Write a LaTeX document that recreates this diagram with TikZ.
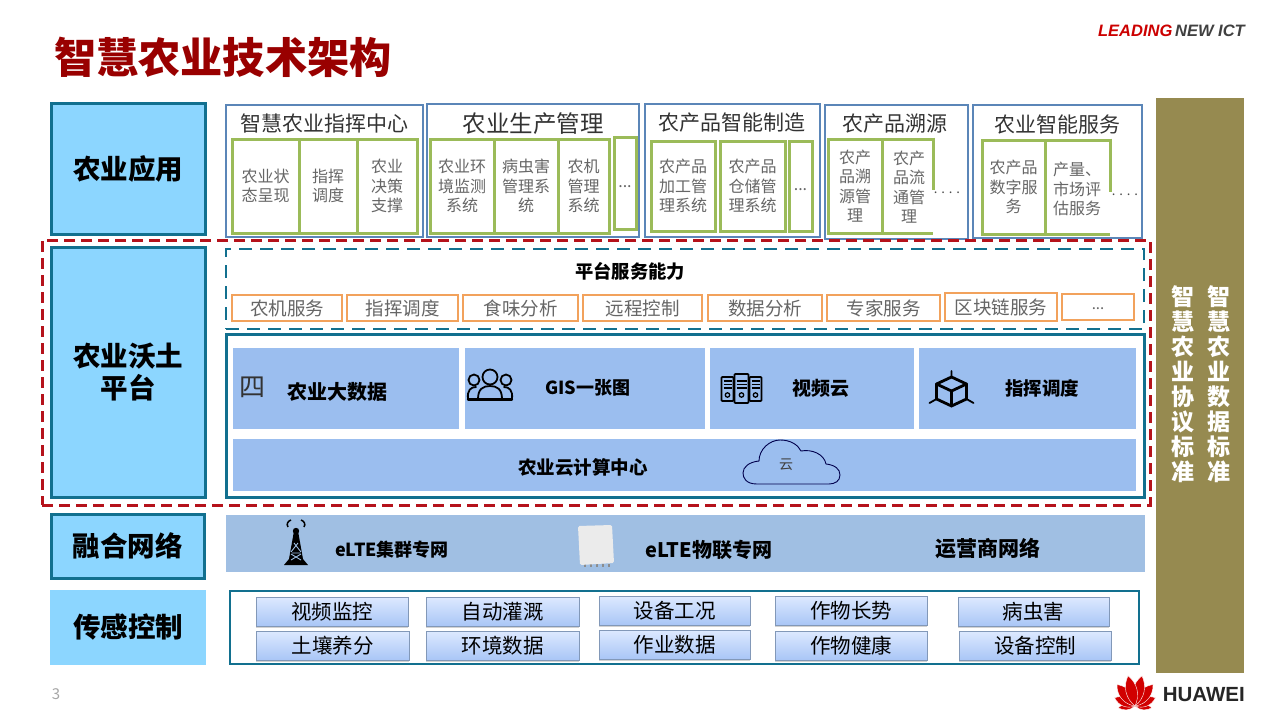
\documentclass[tikz,border=0pt]{standalone}
\usepackage{fontspec}
\setmainfont{Noto Sans CJK SC}
\newfontfamily\logofont{Liberation Sans}
\usetikzlibrary{shadows}
\definecolor{teal1}{HTML}{12708F}
\definecolor{sky1}{HTML}{8CD6FF}
\definecolor{blue1}{HTML}{5B86B8}
\definecolor{green1}{HTML}{9BBB59}
\definecolor{grey1}{HTML}{666666}
\definecolor{red1}{HTML}{B5121B}
\definecolor{orange1}{HTML}{F2A25C}
\definecolor{cell1}{HTML}{9BBEEF}
\definecolor{band1}{HTML}{A0BFE3}
\definecolor{olive1}{HTML}{968A50}
\definecolor{btnTop}{HTML}{DDE9FF}
\definecolor{btnBot}{HTML}{A9C6F6}
\definecolor{btnEdge}{HTML}{8298B8}
\newcommand{\fs}[2]{\fontsize{#1}{#2}\selectfont}
\newcommand{\rbox}[7]{%
  \pgfmathsetmacro{\rcx}{(#3+#5)/2}\pgfmathsetmacro{\rcy}{(#4+#6)/2}%
  \pgfmathsetmacro{\rw}{#5-#3}\pgfmathsetmacro{\rh}{#6-#4}%
  \node[#2,minimum width=\rw pt,minimum height=\rh pt,inner sep=0pt,outer sep=0pt] (#1) at (\rcx,\rcy) {#7};}
\tikzset{
  layerbox/.style={draw=teal1,line width=3pt,fill=sky1,align=center,font=\fs{27.5}{32}\bfseries,text=black},
  layerflat/.style={fill=sky1,align=center,font=\fs{27.5}{32}\bfseries,text=black},
  groupbox/.style={draw=blue1,line width=2.6pt,fill=white},
  greencell/.style={draw=green1,line width=3pt,align=center,font=\fs{16}{19.5},text=grey1},
  celltext/.style={align=center,font=\fs{16}{19.5},text=grey1},
  grouptitle/.style={font=\fs{21}{25},text=black!80},
  orangebox/.style={draw=orange1,line width=2.8pt,fill=white,font=\fs{18.5}{22},text=grey1},
  platcell/.style={fill=cell1},
  strong/.style={font=\fs{18}{22}\bfseries,text=black},
  sensorbtn/.style={draw=btnEdge,line width=.8pt,top color=btnTop,bottom color=btnBot,
    drop shadow={opacity=.35,shadow xshift=0pt,shadow yshift=-1.5pt},font=\fs{20.5}{24},text=black},
  sidetext/.style={align=center,font=\fs{23}{25}\bfseries,text=white},
  iconline/.style={draw=black,line width=1.8pt,line join=round,line cap=round},
  petal/.style={fill=red!82!black,draw=white,line width=.4pt}
}
\begin{document}
\begin{tikzpicture}[x=1pt,y=-1pt]
\useasboundingbox (0,0) rectangle (1280,720);
\fill[white] (0,0) rectangle (1280,720);
% title and logos
\node[anchor=west,inner sep=0pt,font=\fs{42.2}{46}\bfseries,text=red!60!black] (title) at (54,57) {智慧农业技术架构};
\node[anchor=east,inner sep=0pt,font=\logofont\fs{16.5}{18}\bfseries\itshape] (slogan) at (1245,31) {\textcolor{red!80!black}{LEADING}\,\textcolor{black!75}{NEW ICT}};
\node[anchor=east,inner sep=0pt,font=\logofont\fs{20.5}{22}\bfseries,text=black!85] (huawei) at (1245,694.5) {HUAWEI};
\foreach \a/\l/\w in {-96/17/4,96/17/4,-68/22/6,68/22/6,-40/28/7.5,40/28/7.5,-13/31/7.5,13/31/7.5}{
  \path[petal,shift={(1135,706)},rotate=\a] (0,0) .. controls (-\w,-0.3*\l) and (-\w,-0.7*\l) .. (0,-\l) .. controls (\w,-0.7*\l) and (\w,-0.3*\l) .. (0,0);
}
\node[inner sep=0pt,font=\fs{15}{18},text=black!35] (pagenum) at (56,694) {3};
% right bar
\rbox{sidebar}{fill=olive1}{1156}{98}{1244}{673}{}
\node[sidetext] (sideA) at (1183,384) {智\\慧\\农\\业\\协\\议\\标\\准};
\node[sidetext] (sideB) at (1219,384) {智\\慧\\农\\业\\数\\据\\标\\准};
% layer labels
\rbox{layerA}{layerbox}{51}{103}{205}{234}{\raisebox{-1pt}{农业应用}}
\rbox{layerB}{layerbox}{51}{247}{205}{497}{\raisebox{-2pt}{农业沃土}\\\raisebox{-2pt}{平台}}
\rbox{layerC}{layerbox}{51}{514}{204}{578}{融合网络}
\rbox{layerD}{layerflat}{50}{590}{206}{665}{\raisebox{-1pt}{传感控制}}
% application groups
\rbox{groupA}{groupbox}{226}{105}{423}{237}{}
\rbox{groupB}{groupbox}{427}{104}{639}{237}{}
\rbox{groupC}{groupbox}{645}{104}{820}{237}{}
\rbox{groupD}{groupbox}{825}{105}{968}{239}{}
\rbox{groupE}{groupbox}{973}{105}{1142}{238}{}
\node[grouptitle] (titleA) at (324,123) {智慧农业指挥中心};
\node[grouptitle,font=\fs{23.5}{27}] (titleB) at (533,124) {农业生产管理};
\node[grouptitle] (titleC) at (732,123) {农产品智能制造};
\node[grouptitle] (titleD) at (895,124) {农产品溯源};
\node[grouptitle] (titleE) at (1057,124) {农业智能服务};
% group A
\rbox{a1}{greencell}{232}{139}{299}{233}{农业状\\态呈现}
\rbox{a2}{greencell}{299}{139}{357}{233}{指挥\\调度}
\rbox{a3}{greencell}{357}{139}{417}{233}{农业\\决策\\支撑}
% group B
\rbox{b1}{greencell}{430}{139}{494}{233}{农业环\\境监测\\系统}
\rbox{b2}{greencell}{494}{139}{558}{233}{病虫害\\管理系\\统}
\rbox{b3}{greencell}{558}{139}{609}{233}{农机\\管理\\系统}
\rbox{b4}{greencell}{614}{137}{636}{229}{\raisebox{-9pt}{...}}
% group C
\rbox{c1}{greencell}{651}{141}{715}{231}{农产品\\加工管\\理系统}
\rbox{c2}{greencell}{720}{141}{785}{231}{农产品\\仓储管\\理系统}
\rbox{c3}{greencell}{789}{141}{812}{231}{\raisebox{-9pt}{...}}
% group D
\rbox{d1}{greencell}{828}{139}{882}{233}{农产\\品溯\\源管\\理}
\draw[green1,line width=3pt] (882,139) -- (933,139) (933.6,137.5) -- (933.6,190) (882,233) -- (933,233);
\node[celltext] (d2) at (909,187) {农产\\品流\\通管\\理};
\node[celltext,font=\fs{13}{14},text=black!70] (d3) at (947,193) {. . . .};
% group E
\rbox{e1}{greencell}{982}{140}{1045}{234}{农产品\\数字服\\务}
\draw[green1,line width=3pt] (1045,140) -- (1110,140) (1110.6,138.5) -- (1110.6,192) (1045,234) -- (1110,234);
\node[celltext,align=left] (e2) at (1077,189) {产量、\\市场评\\估服务};
\node[celltext,font=\fs{13}{14},text=black!70] (e3) at (1125,195) {. . . .};
% platform
\rbox{svcBox}{draw=teal1,line width=2.6pt,dash pattern=on 13pt off 8pt}{226}{249}{1144}{329}{}
\node[font=\fs{18.3}{20}\bfseries,text=black] (svcTitle) at (630,271) {平台服务能力};
\rbox{s1}{orangebox}{232}{295}{342}{321}{农机服务}
\rbox{s2}{orangebox}{347}{295}{458}{321}{指挥调度}
\rbox{s3}{orangebox}{463}{295}{578}{321}{食味分析}
\rbox{s4}{orangebox}{583}{295}{702}{321}{远程控制}
\rbox{s5}{orangebox}{708}{295}{822}{321}{数据分析}
\rbox{s6}{orangebox}{827}{295}{940}{321}{专家服务}
\rbox{s7}{orangebox}{945}{293}{1057}{321}{区块链服务}
\rbox{s8}{orangebox}{1062}{294}{1134}{320}{\raisebox{-6pt}{\fs{15}{18}...}}
\rbox{platBox}{draw=teal1,line width=3pt}{226}{334}{1144}{497}{}
\rbox{p1}{platcell}{233}{348}{459}{429}{}
\rbox{p2}{platcell}{465}{348}{705}{429}{}
\rbox{p3}{platcell}{710}{348}{914}{429}{}
\rbox{p4}{platcell}{919}{348}{1136}{429}{}
\rbox{p5}{platcell}{233}{439}{1136}{491}{}
\node[font=\fs{26}{30},text=black!80] (sibox) at (252,387) {四};
\node[strong,font=\fs{20}{22}\bfseries] (t1) at (337,392) {农业大数据};
\node[strong] (t2) at (587.5,388) {GIS一张图};
\node[strong,font=\fs{19}{22}\bfseries] (t3) at (821,388) {视频云};
\node[strong,font=\fs{18.5}{22}\bfseries] (t4) at (1042,388) {指挥调度};
\node[strong,font=\fs{18.5}{22}\bfseries] (t5) at (583,467) {农业云计算中心};
% people icon
\begin{scope}[shift={(490,385)}]
  \draw[iconline,fill=cell1] (-16,-5) circle (5.5);
  \draw[iconline,fill=cell1] (16,-5) circle (5.5);
  \draw[iconline] (-22,14) .. controls (-23,5) and (-19,2) .. (-14,2) (22,14) .. controls (23,5) and (19,2) .. (14,2);
  \draw[iconline,fill=cell1] (0,-8) circle (7.5);
  \draw[iconline,fill=cell1] (-12,14) .. controls (-12,4) and (-7,1) .. (0,1) .. controls (7,1) and (12,4) .. (12,14) -- cycle;
  \draw[iconline,line width=2.2pt] (-22,14.5) -- (22,14.5);
\end{scope}
% server icon
\begin{scope}[shift={(741.5,388)}]
  \draw[iconline,rounded corners=.8pt] (-20,-11) rectangle (-8,13);
  \draw[iconline,rounded corners=.8pt] (8,-11) rectangle (20,13);
  \draw[iconline,rounded corners=.8pt] (-7,-14) rectangle (7,15);
  \foreach \x/\w in {-14/4,0/5,14/4}{
    \foreach \y in {-7,-3.5,0}{\draw[black,line width=1.1pt] (\x-\w,\y) -- (\x+\w,\y);}
    \draw[black,line width=1.3pt] (\x,7) circle (2.2);
  }
\end{scope}
% cube icon
\begin{scope}[shift={(951.5,389)}]
  \draw[iconline,line width=2.8pt] (0,-12) -- (15,-5) -- (15,10) -- (0,17) -- (-15,10) -- (-15,-5) -- cycle;
  \draw[iconline,line width=2.8pt] (-15,-5) -- (0,2) -- (15,-5) (0,2) -- (0,17);
  \draw[iconline] (0,-12) -- (0,-18) (15,10) -- (22,14) (-15,10) -- (-22,14);
\end{scope}
% cloud icon
\draw[black!70!blue,line width=.9pt,fill=cell1] (757,484) .. controls (746,484) and (743,478) .. (743,473) .. controls (743,467) and (749,462) .. (759,461) .. controls (759,449) and (770,440) .. (780,440) .. controls (791,440) and (798,445) .. (801,451) .. controls (812,449) and (824,454) .. (826,464) .. controls (835,465) and (840,469) .. (840,475) .. controls (840,481) and (835,484) .. (829,484) -- cycle;
\node[font=\fs{14}{16},text=black!75] (cloudtext) at (786,465) {云};
% network
\rbox{netBand}{fill=band1}{226}{515}{1145}{572}{}
\begin{scope}[shift={(296,543)}]
  \fill[black] (0,-12) circle (3.2);
  \fill[black] (-2,-12) -- (2,-12) -- (7,16) -- (12,22) -- (-12,22) -- (-7,16) -- cycle;
  \draw[band1,line width=.9pt] (-2,0) -- (5,9) (2,0) -- (-5,9) (-4,10) -- (4,10) (-5,11) -- (5,17) (5,11) -- (-5,17);
  \draw[black,line width=1.5pt] (-8,-16) .. controls (-10,-19) and (-8,-22) .. (-5,-23) (8,-16) .. controls (10,-19) and (8,-22) .. (5,-23);
\end{scope}
\node[strong,font=\fs{18}{20}\bfseries] (n1) at (392,550) {eLTE集群专网};
\foreach \fx in {584,590,596,602,608}{\fill[black!45] (\fx,564) rectangle (\fx+2,566.5);}
\fill[black!8,rounded corners=1.5pt] (578,526) -- (612,525) -- (614,563) -- (580,565) -- cycle;
\node[strong,font=\fs{20}{22}\bfseries] (n2) at (709,550) {eLTE物联专网};
\node[strong,font=\fs{21}{24}\bfseries] (n3) at (988,549) {运营商网络};
% sensors
\rbox{sensorBox}{draw=teal1,line width=2.8pt}{230}{591}{1139}{664}{}
\rbox{k1}{sensorbtn}{256}{597}{408}{626}{视频监控}
\rbox{k2}{sensorbtn}{426}{597}{579}{626}{自动灌溉}
\rbox{k3}{sensorbtn}{599}{596}{750}{625}{设备工况}
\rbox{k4}{sensorbtn}{775}{596}{927}{625}{作物长势}
\rbox{k5}{sensorbtn}{958}{597}{1109}{626}{病虫害}
\rbox{k6}{sensorbtn}{256}{631}{409}{660}{土壤养分}
\rbox{k7}{sensorbtn}{426}{631}{579}{660}{环境数据}
\rbox{k8}{sensorbtn}{599}{630}{750}{659}{作业数据}
\rbox{k9}{sensorbtn}{775}{631}{927}{660}{作物健康}
\rbox{k10}{sensorbtn}{959}{631}{1111}{660}{设备控制}
% red dashed frame (over the rest)
\rbox{redFrame}{draw=red1,line width=3pt,dash pattern=on 11pt off 6pt}{42}{240}{1150}{505}{}
\end{tikzpicture}
\end{document}
